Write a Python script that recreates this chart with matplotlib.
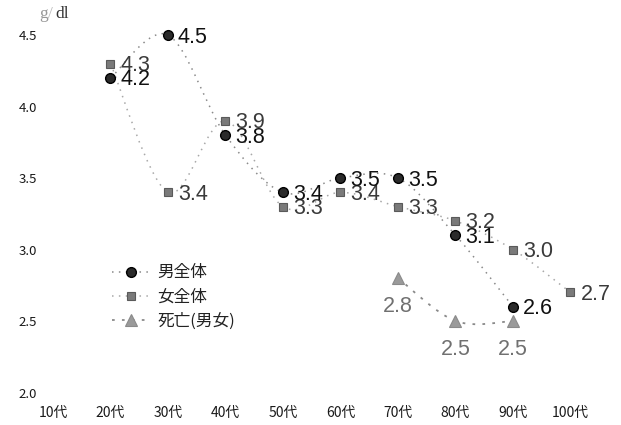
import matplotlib
matplotlib.use("Agg")
import matplotlib.pyplot as plt
from matplotlib.path import Path
from matplotlib.patches import PathPatch
from matplotlib.lines import Line2D
import numpy as np

plt.rcParams['font.family'] = ['Noto Sans CJK JP', 'DejaVu Sans']

# Age groups and serum values (g/dl)
categories = ["10代", "20代", "30代", "40代", "50代", "60代", "70代", "80代", "90代", "100代"]
male_idx = [1, 2, 3, 4, 5, 6, 7, 8]
male_vals = [4.2, 4.5, 3.8, 3.4, 3.5, 3.5, 3.1, 2.6]
female_idx = [1, 2, 3, 4, 5, 6, 7, 8, 9]
female_vals = [4.3, 3.4, 3.9, 3.3, 3.4, 3.3, 3.2, 3.0, 2.7]
death_idx = [6, 7, 8]
death_vals = [2.8, 2.5, 2.5]
yticks = [2.0, 2.5, 3.0, 3.5, 4.0, 4.5]
legend_labels = ["男全体", "女全体", "死亡(男女)"]

W, H = 621, 425
fig = plt.figure(figsize=(W / 100, H / 100), dpi=100)
ax = fig.add_axes([45 / W, (H - 398) / H, 560 / W, 386 / H])
ax.set_xlim(-0.139, 9.6)
ax.set_ylim(1.962, 4.661)
for s in ax.spines.values():
    s.set_visible(False)


def smooth_path(xs, ys):
    """Bezier path through the points (Catmull-Rom style control points)."""
    pts = np.column_stack([xs, ys]).astype(float)
    n = len(pts)
    verts = [pts[0]]
    codes = [Path.MOVETO]
    for i in range(n - 1):
        p0 = pts[i - 1] if i > 0 else pts[i]
        p1 = pts[i]
        p2 = pts[i + 1]
        p3 = pts[i + 2] if i + 2 < n else pts[i + 1]
        c1 = p1 + (p2 - p0) / 6.0
        c2 = p2 - (p3 - p1) / 6.0
        verts += [c1, c2, p2]
        codes += [Path.CURVE4] * 3
    return Path(verts, codes)


male_line = dict(color="#8a8a8a", lw=1.1, ls=(0, (1, 3.5)))
female_line = dict(color="#a8a8a8", lw=1.1, ls=(0, (1, 3.5)))
death_line = dict(color="#8a8a8a", lw=1.3, ls=(0, (1.5, 4)))

for xs, ys, st in [(male_idx, male_vals, male_line),
                   (female_idx, female_vals, female_line),
                   (death_idx, death_vals, death_line)]:
    ax.add_patch(PathPatch(smooth_path(xs, ys), fill=False, edgecolor=st["color"],
                           lw=st["lw"], ls=st["ls"], zorder=2))

male_mk = dict(marker="o", ms=7, mfc="#2a2a2a", mec="#000000", mew=1.0, ls="none")
female_mk = dict(marker="s", ms=6, mfc="#7a7a7a", mec="#5a5a5a", mew=0.8, ls="none")
death_mk = dict(marker="^", ms=8, mfc="#9a9a9a", mec="#8a8a8a", mew=0.8, ls="none")

ax.plot(female_idx, female_vals, zorder=3, **female_mk)
ax.plot(male_idx, male_vals, zorder=4, **male_mk)
ax.plot(death_idx, death_vals, zorder=3, **death_mk)

lab_font = dict(family=["Liberation Sans Narrow", "Liberation Sans"], fontsize=15.5)
for x, v in zip(female_idx, female_vals):
    ax.annotate(f"{v:.1f}", (x, v), xytext=(10, -2), textcoords="offset pixels",
                ha="left", va="center", color="#3a3a3a", zorder=5, **lab_font)
for x, v in zip(male_idx, male_vals):
    ax.annotate(f"{v:.1f}", (x, v), xytext=(10, -2), textcoords="offset pixels",
                ha="left", va="center", color="#111111", zorder=6, **lab_font)
for x, v in zip(death_idx, death_vals):
    ax.annotate(f"{v:.1f}", (x, v), xytext=(0, -28), textcoords="offset pixels",
                ha="center", va="center", color="#707070", zorder=5, **lab_font)

ax.set_xticks(range(len(categories)))
ax.set_xticklabels(categories, fontsize=10, color="#1a1a1a")
ax.set_yticks(yticks)
ax.set_yticklabels([f"{t:.1f}" for t in yticks], fontsize=9.5, color="#1a1a1a")
ax.tick_params(axis="both", length=0)
ax.tick_params(axis="x", pad=6)
ax.tick_params(axis="y", pad=6)

# unit label
fig.text(39 / W, 1 - 14 / H, "g", family="Liberation Serif", fontsize=12.5,
         color="#999999", ha="left", va="center")
fig.text(48 / W, 1 - 14 / H, "/", family="Liberation Serif", fontsize=12.5,
         color="#bbbbbb", ha="left", va="center")
fig.text(55 / W, 1 - 14 / H, "dl", family="Liberation Serif", fontsize=12.5,
         color="#333333", ha="left", va="center")

handles = [
    Line2D([], [], color=male_line["color"], lw=1.1, ls=male_line["ls"], **{k: v for k, v in male_mk.items() if k != "ls"}),
    Line2D([], [], color=female_line["color"], lw=1.1, ls=female_line["ls"], **{k: v for k, v in female_mk.items() if k != "ls"}),
    Line2D([], [], color=death_line["color"], lw=1.3, ls=death_line["ls"], **{k: v for k, v in death_mk.items() if k != "ls"}),
]
leg = ax.legend(handles, legend_labels, loc="upper left",
                bbox_to_anchor=(104 / W, 1 - 256 / H), bbox_transform=fig.transFigure,
                frameon=False, fontsize=12, handlelength=2.2, handletextpad=0.5,
                labelspacing=0.42, borderpad=0, labelcolor="#222222")

fig.savefig("out.png", dpi=100, facecolor="white")
